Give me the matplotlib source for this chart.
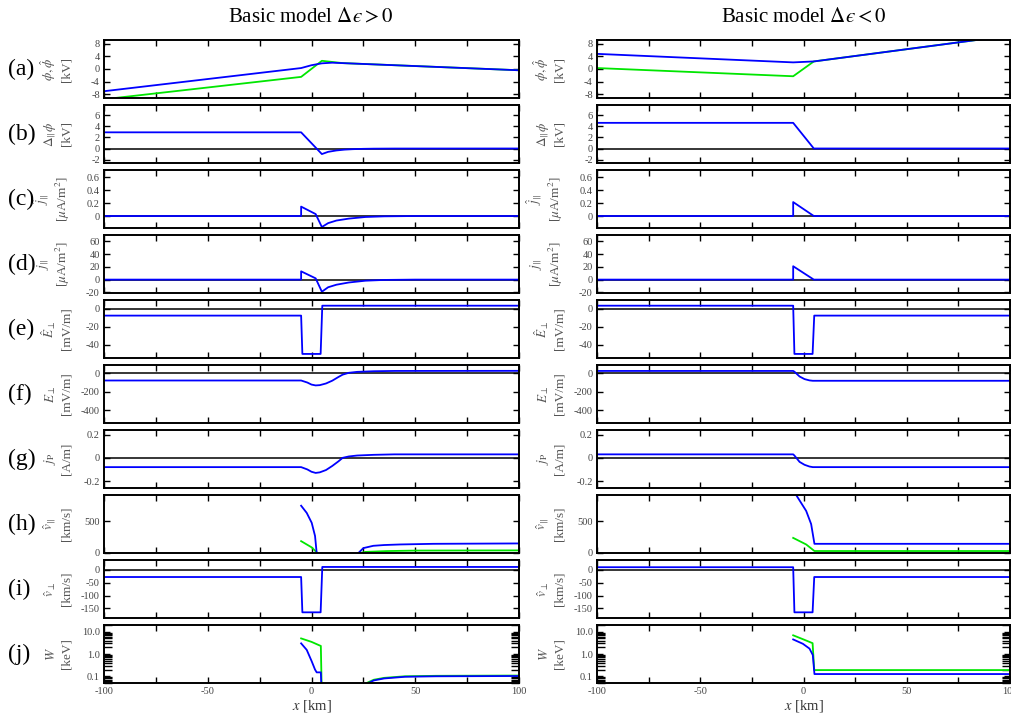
import matplotlib.pyplot as plt
from matplotlib.ticker import FixedLocator, LogLocator, NullFormatter

plt.rcParams['font.family'] = ['Liberation Serif', 'DejaVu Serif']
plt.rcParams['mathtext.fontset'] = 'stix'
plt.rcParams['axes.unicode_minus'] = False

nan = float('nan')
BLUE = '#0000ff'
GREEN = '#00e600'

# ---------------- Basic model, delta eps > 0 (left column) ----------------
# (a) phi (blue), phi hat (green)
L_a_bx = [-100, -5, 0, 5, 10, 100]
L_a_by = [-7.05, 0.3, 1.2, 1.8, 2.0, -0.4]
L_a_gx = [-100, -5, 5, 15, 100]
L_a_gy = [-9.6, -2.5, 2.6, 1.87, -0.4]
# (b) delta_par phi
L_b_x = [-100, -5, 5, 8, 12, 16, 20, 25, 30, 40, 100]
L_b_y = [2.9, 2.9, -1.0, -0.6, -0.35, -0.2, -0.12, -0.06, -0.03, -0.01, 0]
# (c) j_par hat
L_c_x = [-100, -5, -5, 2, 5, 8, 12, 18, 26, 35, 50, 100]
L_c_y = [0, 0, 0.145, 0.03, -0.17, -0.11, -0.07, -0.04, -0.015, -0.005, 0, 0]
# (d) j_par
L_d_x = [-100, -5, -5, 2, 5, 8, 12, 18, 26, 35, 50, 100]
L_d_y = [0, 0, 13, 2, -19, -12, -8, -4.5, -1.7, -0.5, 0, 0]
# (e) E_perp hat
L_e_x = [-100, -5, -4.4, 4.4, 5.2, 100]
L_e_y = [-7.5, -7.5, -50, -50, 3.5, 3.5]
# (f) E_perp
L_f_x = [-100, -5, -2, 0, 2, 4, 7, 10, 13, 15, 18, 22, 30, 40, 100]
L_f_y = [-78, -78, -100, -122, -131, -128, -110, -80, -40, -15, 5, 15, 22, 25, 26]
# (g) j_P
L_g_x = [-100, -5, -2, 0, 2, 4, 7, 10, 13, 15, 18, 22, 30, 40, 100]
L_g_y = [-0.08, -0.08, -0.1, -0.12, -0.13, -0.125, -0.105, -0.07, -0.03, 0,
         0.012, 0.02, 0.026, 0.03, 0.03]
# (h) v_par hat
L_h_bx = [-5, -2.3, 0.1, 1.7, 2.5, nan, 22.6, 25, 29.8, 35, 42.7, 58.7, 100]
L_h_by = [742, 629, 474, 268, 0, nan, 0, 77, 113, 125, 134, 144, 150]
L_h_gx = [-5, 0.1, 2.5, nan, 23.5, 26, 36, 50, 100]
L_h_gy = [186, 88, 10, nan, 0, 17, 30, 38, 41]
# (i) v_perp hat
L_i_x = [-100, -5, -4.4, 4.4, 5.2, 100]
L_i_y = [-28, -28, -165, -165, 11, 11]
# (j) W
L_j_bx = [-5, -2.3, 0.1, 1.7, 2.5, 4.5, 5, nan, 27.5, 30, 35, 45, 60, 100]
L_j_by = [3.0, 1.53, 0.47, 0.2, 0.15, 0.15, 0.01, nan, 0.05, 0.065, 0.08, 0.095, 0.1, 0.103]
L_j_gx = [-5, 0, 4, 4.5, 5, nan, 26.6, 30, 35, 45, 60, 100]
L_j_gy = [5.0, 3.5, 2.4, 2.3, 0.01, nan, 0.05, 0.07, 0.085, 0.1, 0.105, 0.108]

# ---------------- Basic model, delta eps < 0 (right column) ----------------
R_a_bx = [-100, -5, 5, 100]
R_a_by = [4.8, 2.1, 2.4, 10.6]
R_a_gx = [-100, -5, 5, 100]
R_a_gy = [0.3, -2.3, 2.4, 10.6]
R_b_x = [-100, -5, 5, 100]
R_b_y = [4.6, 4.6, 0, 0]
R_c_x = [-100, -5, -5, 5, 100]
R_c_y = [0, 0, 0.215, 0, 0]
R_d_x = [-100, -5, -5, 5, 100]
R_d_y = [0, 0, 21, 0, 0]
R_e_x = [-100, -5, -4.4, 4.4, 5.2, 100]
R_e_y = [3.5, 3.5, -50, -50, -7.5, -7.5]
R_f_x = [-100, -5, -4.4, -1.9, 0.5, 2.9, 4.5, 100]
R_f_y = [25, 25, 17, -35, -63, -77, -81, -81]
R_g_x = [-100, -5, -4.4, -1.9, 0.5, 2.9, 4.5, 100]
R_g_y = [0.03, 0.03, 0.02, -0.035, -0.06, -0.075, -0.08, -0.08]
R_h_bx = [-5, -3.5, 1.3, 3.7, 5.3, 100]
R_h_by = [960, 907, 660, 454, 144, 144]
R_h_gx = [-5, 1.3, 5.3, 100]
R_h_gy = [237, 134, 31, 31]
R_i_x = [-100, -5, -4.4, 4.4, 5.2, 100]
R_i_y = [10, 10, -165, -165, -28, -28]
R_j_bx = [-5, -0.3, 2.9, 4.5, 5.3, 100]
R_j_by = [4.5, 2.87, 1.75, 0.9, 0.126, 0.126]
R_j_gx = [-5, 0, 4.4, 5.2, 100]
R_j_gy = [6.9, 4.5, 3.06, 0.19, 0.19]

letters = ['(a)', '(b)', '(c)', '(d)', '(e)', '(f)', '(g)', '(h)', '(i)', '(j)']
symbols = [r'$\phi, \hat{\phi}$', r'$\Delta_\Vert \phi$', r'$\hat{j}_\Vert$', r'$j_\Vert$',
           r'$\hat{E}_\perp$', r'$E_\perp$', r'$j_\mathrm{P}$', r'$\hat{v}_\Vert$',
           r'$\hat{v}_\perp$', r'$W$']
units = ['[kV]', '[kV]', r'[$\mu$A/m$^2$]', r'[$\mu$A/m$^2$]', '[mV/m]', '[mV/m]',
         '[A/m]', '[km/s]', '[km/s]', '[keV]']
ylims = [(-9.2, 9.2), (-2.6, 7.8), (-0.185, 0.71), (-21, 70), (-54.5, 9.8),
         (-536, 89), (-0.26, 0.24), (0, 910), (-187, 38), (0.05, 20)]
yticks = [[-8, -4, 0, 4, 8], [-2, 0, 2, 4, 6], [0, 0.2, 0.4, 0.6], [-20, 0, 20, 40, 60],
          [-40, -20, 0], [-400, -200, 0], [-0.2, 0, 0.2], [0, 500],
          [-150, -100, -50, 0], [0.1, 1, 10]]
zero_line = [False, True, True, True, True, True, True, False, True, False]

left = [
    [(L_a_gx, L_a_gy, GREEN), (L_a_bx, L_a_by, BLUE)],
    [(L_b_x, L_b_y, BLUE)],
    [(L_c_x, L_c_y, BLUE)],
    [(L_d_x, L_d_y, BLUE)],
    [(L_e_x, L_e_y, BLUE)],
    [(L_f_x, L_f_y, BLUE)],
    [(L_g_x, L_g_y, BLUE)],
    [(L_h_gx, L_h_gy, GREEN), (L_h_bx, L_h_by, BLUE)],
    [(L_i_x, L_i_y, BLUE)],
    [(L_j_gx, L_j_gy, GREEN), (L_j_bx, L_j_by, BLUE)],
]
right = [
    [(R_a_gx, R_a_gy, GREEN), (R_a_bx, R_a_by, BLUE)],
    [(R_b_x, R_b_y, BLUE)],
    [(R_c_x, R_c_y, BLUE)],
    [(R_d_x, R_d_y, BLUE)],
    [(R_e_x, R_e_y, BLUE)],
    [(R_f_x, R_f_y, BLUE)],
    [(R_g_x, R_g_y, BLUE)],
    [(R_h_gx, R_h_gy, GREEN), (R_h_bx, R_h_by, BLUE)],
    [(R_i_x, R_i_y, BLUE)],
    [(R_j_gx, R_j_gy, GREEN), (R_j_bx, R_j_by, BLUE)],
]

W, H = 1011, 715
fig = plt.figure(figsize=(W / 100, H / 100), dpi=100)

col_left = [104, 597]
col_width = [415, 413]
xt = list(range(-100, 101, 25))
xtl = ['-100', '', '-50', '', '0', '', '50', '', '100']

for c, series in enumerate([left, right]):
    for r in range(10):
        top = 40 + r * 65
        ax = fig.add_axes([col_left[c] / W, 1 - (top + 58) / H, col_width[c] / W, 58 / H])
        if zero_line[r]:
            ax.axhline(0, color='black', lw=1.1, zorder=1)
        for xs, ys, col in series[r]:
            ax.plot(xs, ys, color=col, lw=1.3, zorder=2)
        ax.set_xlim(-100, 100)
        if r == 9:
            ax.set_yscale('log')
            ax.set_ylim(*ylims[r])
            ax.yaxis.set_major_locator(FixedLocator(yticks[r]))
            ax.set_yticklabels(['0.1', '1.0', '10.0'])
            ax.yaxis.set_minor_locator(LogLocator(subs=range(2, 10)))
            ax.yaxis.set_minor_formatter(NullFormatter())
        else:
            ax.set_ylim(*ylims[r])
            ax.set_yticks(yticks[r])
            ax.set_yticklabels([('%g' % v) for v in yticks[r]])
        ax.set_xticks(xt)
        if r == 9:
            ax.set_xticklabels(xtl)
            ax.set_xlabel(r'$x$ [km]', fontsize=10.5, color='#333333', labelpad=1)
        else:
            ax.set_xticklabels([])
        ax.tick_params(which='both', direction='in', top=True, right=True,
                       length=4, width=1, labelsize=7.5, labelcolor='#444444', pad=3)
        ax.tick_params(axis='y', which='minor', length=6)
        for s in ax.spines.values():
            s.set_linewidth(1.4)
        ax.set_ylabel(symbols[r] + '\n' + units[r], fontsize=9.5, color='#555555')
        ax.yaxis.set_label_coords(-0.077, 0.5)
        if c == 0:
            fig.text(8 / W, 1 - (top + 29) / H, letters[r], fontsize=17, va='center', ha='left')

fig.text(311 / W, 1 - 18 / H, 'Basic model $\\Delta ϵ > 0$', fontsize=15, ha='center', va='center')
fig.text(804 / W, 1 - 18 / H, 'Basic model $\\Delta ϵ < 0$', fontsize=15, ha='center', va='center')

fig.savefig('out.png', dpi=100)
